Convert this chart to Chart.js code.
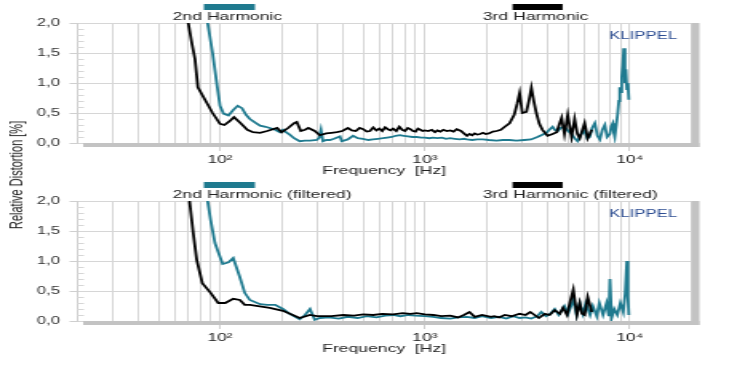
<!DOCTYPE html>
<html>
<head>
<meta charset="utf-8">
<script src="https://cdn.jsdelivr.net/npm/chart.js@4.4.1/dist/chart.umd.min.js"></script>
<style>
  html, body { margin: 0; padding: 0; background: #fff; overflow: hidden; }
  /* the reference is a horizontally stretched screenshot, so draw narrow and stretch */
  #stage { position: absolute; left: 0; top: 0; width: 466px; height: 388px;
           transform: scaleX(1.5987); transform-origin: 0 0; }
  #stage canvas { position: absolute; left: 0; }
  #ytitle { position: absolute; left: 9.5px; top: 175px;
            transform: translate(-50%, -50%) rotate(-90deg);
            font: 11px "Liberation Sans", Arial, sans-serif; color: #222; white-space: nowrap; }
</style>
</head>
<body>
<div id="stage">
  <canvas id="topChart" width="466" height="180" style="top:0"></canvas>
  <canvas id="bottomChart" width="466" height="180" style="top:178px"></canvas>
  <div id="ytitle">Relative Distortion [%]</div>
</div>
<script>
// ---- data (frequency in Hz, distortion in %) ----
const gridFreqs = [20, 30, 40, 50, 60, 70, 80, 90, 100, 200, 300, 400, 500, 600, 700, 800, 900,
                   1000, 2000, 3000, 4000, 5000, 6000, 7000, 8000, 9000, 10000, 20000];
const decadeLabels = { 100: '10²', 1000: '10³', 10000: '10⁴' };

// 2nd harmonic (top panel)
const h2Freq = [60, 70, 80, 87, 92, 97, 100, 104, 110, 116,
  122, 128, 134, 140, 150, 157, 167, 175, 186, 196,
  203, 210, 219, 230, 245, 260, 275, 297, 305, 311,
  318, 330, 344, 360, 385, 393, 420, 446, 470, 498,
  530, 558, 590, 624, 655, 690, 720, 755, 790, 827,
  870, 913, 960, 1000, 1050, 1094, 1150, 1210, 1270, 1326,
  1400, 1480, 1550, 1605, 1700, 1800, 1919, 2050, 2240, 2400,
  2590, 2800, 3060, 3300, 3540, 3700, 3920, 4050, 4200, 4330,
  4450, 4600, 4800, 5000, 5200, 5380, 5560, 5800, 6020, 6200,
  6370, 6550, 6750, 6950, 7140, 7350, 7550, 7750, 7990, 8120,
  8260, 8350, 8450, 8600, 8740, 8850, 8940, 9040, 9140, 9250,
  9350, 9470, 9570, 9680, 9800, 9900];
const h2 = [4.2, 3.4, 2.6, 2.0, 1.5, 0.93, 0.62, 0.49, 0.46, 0.55,
  0.62, 0.58, 0.47, 0.40, 0.33, 0.29, 0.27, 0.25, 0.22, 0.18,
  0.22, 0.18, 0.14, 0.08, 0.03, 0.04, 0.04, 0.05, 0.09, 0.22,
  0.03, 0.05, 0.05, 0.07, 0.11, 0.03, 0.06, 0.12, 0.08, 0.07,
  0.05, 0.06, 0.07, 0.08, 0.09, 0.10, 0.12, 0.13, 0.12, 0.11,
  0.10, 0.10, 0.09, 0.09, 0.08, 0.09, 0.08, 0.09, 0.07, 0.08,
  0.07, 0.06, 0.07, 0.06, 0.05, 0.06, 0.06, 0.05, 0.04, 0.05,
  0.05, 0.04, 0.05, 0.06, 0.10, 0.13, 0.17, 0.22, 0.27, 0.21,
  0.20, 0.25, 0.27, 0.20, 0.15, 0.08, 0.03, 0.15, 0.20, 0.08,
  0.10, 0.25, 0.33, 0.12, 0.06, 0.22, 0.30, 0.10, 0.15, 0.28,
  0.33, 0.18, 0.10, 0.30, 0.50, 0.70, 0.93, 0.85, 1.10, 1.30,
  1.58, 1.00, 1.23, 0.90, 1.00, 0.72];

// 3rd harmonic (top panel)
const h3Freq = [50, 60, 70, 73, 75.5, 78, 84.5, 92, 100, 105,
  111, 117, 125, 136, 145, 157, 170, 190, 200, 215,
  230, 237, 248, 260, 270, 290, 307, 330, 350, 372,
  395, 421, 440, 460, 480, 500, 520, 540, 560, 580,
  600, 620, 640, 660, 680, 700, 725, 750, 775, 800,
  825, 850, 875, 900, 925, 950, 975, 1000, 1040, 1080,
  1120, 1150, 1190, 1230, 1280, 1330, 1380, 1430, 1500, 1550,
  1605, 1650, 1700, 1750, 1800, 1860, 1919, 1980, 2050, 2150,
  2240, 2350, 2455, 2590, 2730, 2820, 2900, 2990, 3130, 3220,
  3310, 3400, 3500, 3620, 3750, 3970, 4200, 4400, 4520, 4650,
  4800, 4980, 5200, 5380, 5550, 5700, 5850, 6020, 6230, 6380,
  6520];
const h3 = [4.6, 3.0, 2.0, 1.65, 1.4, 0.93, 0.72, 0.5, 0.32, 0.3,
  0.36, 0.43, 0.34, 0.22, 0.18, 0.17, 0.2, 0.25, 0.18, 0.25,
  0.33, 0.35, 0.2, 0.22, 0.25, 0.2, 0.13, 0.16, 0.17, 0.18,
  0.2, 0.25, 0.21, 0.2, 0.25, 0.23, 0.19, 0.2, 0.26, 0.21,
  0.24, 0.2, 0.26, 0.23, 0.21, 0.24, 0.2, 0.27, 0.22, 0.2,
  0.25, 0.23, 0.2, 0.19, 0.24, 0.22, 0.2, 0.21, 0.2, 0.22,
  0.18, 0.21, 0.19, 0.22, 0.2, 0.21, 0.19, 0.23, 0.2, 0.16,
  0.12, 0.15, 0.13, 0.16, 0.14, 0.15, 0.17, 0.15, 0.16, 0.19,
  0.2, 0.22, 0.27, 0.33, 0.47, 0.65, 0.83, 0.5, 0.52, 0.7,
  0.92, 0.7, 0.5, 0.32, 0.22, 0.12, 0.15, 0.18, 0.3, 0.42,
  0.15, 0.47, 0.1, 0.4, 0.15, 0.08, 0.2, 0.33, 0.08, 0.15,
  0.22];

// 2nd harmonic, filtered (bottom panel)
const h2fFreq = [60, 75, 87, 90, 94.5, 98, 103, 110, 116, 125,
  132, 140, 157, 170, 186, 203, 219, 245, 260, 275,
  290, 307, 340, 380, 420, 470, 520, 580, 640, 700,
  760, 830, 900, 1000, 1100, 1200, 1330, 1450, 1600, 1750,
  1900, 2100, 2300, 2500, 2700, 2900, 3100, 3300, 3540, 3700,
  3900, 4100, 4300, 4500, 4800, 5000, 5300, 5500, 5700, 5900,
  6100, 6400, 6600, 6900, 7100, 7400, 7700, 7900, 8000, 8150,
  8400, 8700, 9000, 9300, 9500, 9680, 9800, 9900];
const h2f = [4.0, 3.0, 2.0, 1.68, 1.3, 1.15, 0.95, 0.98, 1.05, 0.73,
  0.47, 0.35, 0.28, 0.27, 0.27, 0.2, 0.12, 0.03, 0.1, 0.2,
  0.02, 0.05, 0.06, 0.04, 0.07, 0.05, 0.08, 0.06, 0.09, 0.1,
  0.08, 0.1, 0.09, 0.08, 0.07, 0.05, 0.04, 0.06, 0.07, 0.05,
  0.08, 0.05, 0.07, 0.04, 0.08, 0.05, 0.06, 0.04, 0.08, 0.15,
  0.08, 0.12, 0.2, 0.1, 0.25, 0.12, 0.35, 0.1, 0.3, 0.12,
  0.3, 0.1, 0.25, 0.08, 0.3, 0.1, 0.3, 0.08, 0.7, 0.05,
  0.2, 0.1, 0.3, 0.15, 0.45, 1.0, 0.4, 0.1];

// 3rd harmonic, filtered (bottom panel)
const h3fFreq = [50, 65, 71, 74, 77, 82, 90, 98, 106, 116,
  125, 132, 140, 175, 203, 245, 275, 297, 350, 400,
  450, 500, 560, 620, 700, 780, 850, 913, 1000, 1100,
  1200, 1330, 1450, 1550, 1650, 1750, 1900, 2100, 2180, 2300,
  2455, 2650, 2900, 3100, 3270, 3600, 3850, 4060, 4300, 4560,
  4720, 4940, 5100, 5300, 5520, 5700, 5850, 6020, 6230, 6520];
const h3f = [4.5, 2.8, 2.0, 1.47, 1.02, 0.63, 0.47, 0.3, 0.3, 0.37,
  0.35, 0.27, 0.27, 0.22, 0.17, 0.05, 0.1, 0.08, 0.08, 0.1,
  0.09, 0.11, 0.1, 0.12, 0.11, 0.13, 0.12, 0.13, 0.11, 0.1,
  0.08, 0.09, 0.06, 0.1, 0.15, 0.07, 0.1, 0.07, 0.08, 0.06,
  0.1, 0.08, 0.12, 0.1, 0.15, 0.05, 0.12, 0.1, 0.18, 0.12,
  0.22, 0.1, 0.3, 0.52, 0.1, 0.3, 0.12, 0.1, 0.4, 0.15];

const topTitles = ['2nd Harmonic', '3rd Harmonic'];
const bottomTitles = ['2nd Harmonic (filtered)', '3rd Harmonic (filtered)'];

// ---- style ----
const FONT = '"Liberation Sans", Arial, sans-serif';
const TEAL = '#1f7a8f';
const GRID = '#d6d6d6';

const toPoints = (xs, ys) => xs.map((x, i) => ({ x: x, y: ys[i] }));

// gray frame, minor y ticks, harmonic legend bars and the logo
const framePlugin = {
  id: 'frame',
  beforeDatasetsDraw(chart) {
    const { ctx, chartArea: a } = chart;
    const y = chart.scales.y;
    ctx.save();
    ctx.strokeStyle = '#d6d6d6';
    ctx.lineWidth = 1;
    for (let i = 1; i < 20; i++) {
      if (i % 5 === 0) continue;
      const py = Math.round(y.getPixelForValue(i / 10)) + 0.5;
      ctx.beginPath();
      ctx.moveTo(a.left, py);
      ctx.lineTo(a.left + 4.5, py);
      ctx.stroke();
    }
    ctx.restore();
  },
  afterDatasetsDraw(chart, args, opts) {
    const { ctx, chartArea: a } = chart;
    ctx.save();
    ctx.fillStyle = '#c3c3c3';
    ctx.fillRect(a.left + 4, a.bottom, a.right + 5 - a.left - 4, 4);
    ctx.fillRect(a.right, a.top, 5, a.bottom + 4 - a.top);

    ctx.fillStyle = TEAL;
    ctx.fillRect(127.5, 4, 32, 6);
    ctx.fillStyle = '#000';
    ctx.fillRect(320.6, 4, 31.3, 6);

    ctx.font = '11px ' + FONT;
    ctx.fillStyle = '#222';
    ctx.textBaseline = 'middle';
    ctx.textAlign = 'left';
    ctx.fillText(opts.titles[0], 108, 17);
    ctx.fillText(opts.titles[1], 302, 17);

    ctx.font = '10.5px ' + FONT;
    ctx.fillStyle = '#2d4e93';
    ctx.fillText('KLIPPEL', 381, 36);
    ctx.restore();
  }
};

function makeChart(id, f2, v2, f3, v3, titles) {
  return new Chart(document.getElementById(id), {
    type: 'line',
    data: {
      datasets: [
        { label: titles[1], data: toPoints(f3, v3), borderColor: '#000',
          borderWidth: 1.8, pointRadius: 0, tension: 0, order: 0 },
        { label: titles[0], data: toPoints(f2, v2), borderColor: TEAL,
          borderWidth: 1.8, pointRadius: 0, tension: 0, order: 1 }
      ]
    },
    options: {
      responsive: false,
      animation: false,
      layout: { padding: { left: 0, top: 23, right: 33.5, bottom: 0 } },
      plugins: {
        legend: { display: false },
        tooltip: { enabled: false },
        frame: { titles: titles }
      },
      scales: {
        x: {
          type: 'logarithmic',
          min: 20,
          max: 20000,
          afterBuildTicks: s => { s.ticks = gridFreqs.map(v => ({ value: v })); },
          afterFit: s => { s.height = 37; },
          border: { display: false },
          grid: {
            color: GRID,
            drawTicks: true,
            tickLength: 8,
            tickColor: c => (c.tick && decadeLabels[c.tick.value]) ? '#cfcfcf' : 'rgba(0,0,0,0)'
          },
          ticks: {
            autoSkip: false, maxRotation: 0, minRotation: 0, padding: 2,
            color: '#222', font: { size: 11, family: FONT },
            callback: v => decadeLabels[v] || ''
          },
          title: {
            display: true, text: 'Frequency\u00a0\u00a0[Hz]', color: '#222',
            font: { size: 11, family: FONT }, padding: { top: 0, bottom: 2.5 }
          }
        },
        y: {
          min: 0,
          max: 2,
          afterFit: s => { s.width = 48; },
          border: { display: true, color: '#cfcfcf' },
          grid: { color: GRID, tickLength: 4.5, tickColor: '#cfcfcf' },
          ticks: {
            stepSize: 0.5, padding: 6, color: '#333',
            font: { size: 10.5, family: FONT },
            callback: v => v.toFixed(1).replace('.', ',')
          }
        }
      }
    },
    plugins: [framePlugin]
  });
}

makeChart('topChart', h2Freq, h2, h3Freq, h3, topTitles);
makeChart('bottomChart', h2fFreq, h2f, h3fFreq, h3f, bottomTitles);
</script>
</body>
</html>
